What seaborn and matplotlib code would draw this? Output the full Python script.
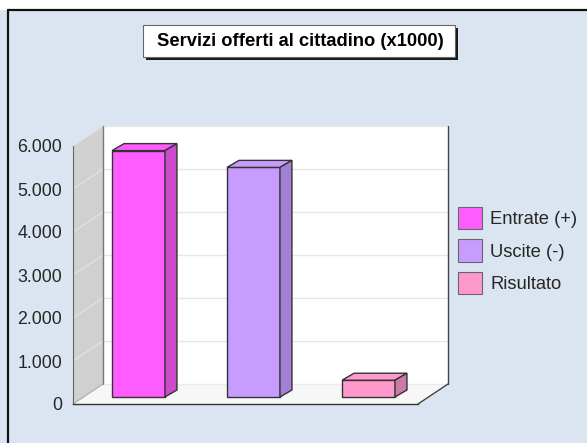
import numpy as np
import pandas as pd
import matplotlib
matplotlib.use("Agg")
import matplotlib.pyplot as plt
from matplotlib.patches import Polygon, Rectangle
from matplotlib.lines import Line2D
import seaborn as sns

# Data
categories = ["Entrate (+)", "Uscite (-)", "Risultato"]
values = [5730, 5340, 390]
front_colors = ["#ff5cff", "#c89cff", "#ff99cc"]
side_colors = ["#cc4acc", "#a47fd6", "#cc7aa3"]
tick_values = [0, 1000, 2000, 3000, 4000, 5000, 6000]
tick_labels = ["0", "1.000", "2.000", "3.000", "4.000", "5.000", "6.000"]
title = "Servizi offerti al cittadino (x1000)"

sns.set_style("white")
plt.rcParams['font.family'] = ['Liberation Sans', 'DejaVu Sans']

W, H = 587, 443
bg = "#dbe5f1"
fig = plt.figure(figsize=(W / 100, H / 100), dpi=100)
fig.patch.set_facecolor(bg)

def fx(px):
    return px / W

def fy(py):
    return 1 - py / H

# frame of the chart
fig.add_artist(Rectangle((0, fy(10)), 1, 10 / H, transform=fig.transFigure,
                         facecolor="white", edgecolor="none", zorder=0))
fig.add_artist(Line2D([fx(8), fx(8)], [0, fy(10)], transform=fig.transFigure,
                      color="#111111", lw=1.6))
fig.add_artist(Line2D([fx(8), 1], [fy(10), fy(10)], transform=fig.transFigure,
                      color="#111111", lw=1.6))

ax = fig.add_axes([fx(73), fy(404), (418 - 73) / W, (404 - 146) / H])
ax.set_facecolor("none")

df = pd.DataFrame({"voce": categories, "valore": values})
sns.barplot(data=df, x="voce", y="valore", hue="voce", palette=front_colors,
            width=0.46, saturation=1, edgecolor="#333333", linewidth=1,
            legend=False, ax=ax, zorder=4)

x0, x1, y0, y1 = -0.5, 2.5, 0, 6000
ax.set_xlim(x0, x1)
ax.set_ylim(y0, y1)

# pixel -> data scale factors
sx = (x1 - x0) / (418 - 73)
sy = (y1 - y0) / (404 - 146)
dx, dy = 30 * sx, 20 * sy          # depth of the box
bx, by = 8 * sx, 7 * sy            # bar placement inside the depth
tx, ty = 12 * sx, 7 * sy           # bar depth

# back wall
ax.add_patch(Polygon([(x0 + dx, y0 + dy), (x1 + dx, y0 + dy), (x1 + dx, y1 + dy), (x0 + dx, y1 + dy)],
                     closed=True, facecolor="white", edgecolor="none", clip_on=False, zorder=0))
# left wall
ax.add_patch(Polygon([(x0, y0), (x0 + dx, y0 + dy), (x0 + dx, y1 + dy), (x0, y1)],
                     closed=True, facecolor="#d0d0d0", edgecolor="none", clip_on=False, zorder=0))
# floor
ax.add_patch(Polygon([(x0, y0), (x0 + dx, y0 + dy), (x1 + dx, y0 + dy), (x1, y0)],
                     closed=True, facecolor="#f7f7f7", edgecolor="none", clip_on=False, zorder=0))

for t in tick_values[1:]:
    ax.plot([x0 + dx, x1 + dx], [t + dy, t + dy], color="#e6e6e6", lw=1, clip_on=False, zorder=1)
    ax.plot([x0, x0 + dx], [t, t + dy], color="#e4e4e4", lw=0.8, clip_on=False, zorder=1)
ax.plot([x0 + dx, x1 + dx], [y0 + dy, y0 + dy], color="#ececec", lw=1, clip_on=False, zorder=1)

# box edges
ax.plot([x0 + dx, x0 + dx], [y0 + dy, y1 + dy], color="#777777", lw=1, clip_on=False, zorder=2)
ax.plot([x1 + dx, x1 + dx], [y0 + dy, y1 + dy], color="#444444", lw=1, clip_on=False, zorder=2)
ax.plot([x1, x1 + dx], [y0, y0 + dy], color="#444444", lw=1, clip_on=False, zorder=2)
ax.plot([x0, x0 + dx], [y0, y0 + dy], color="#aaaaaa", lw=0.8, clip_on=False, zorder=2)

# 3D bars
for patch, side in zip(ax.patches[:len(values)], side_colors):
    patch.set_x(patch.get_x() + bx)
    patch.set_y(by)
    x = patch.get_x()
    w = patch.get_width()
    h = patch.get_height()
    top = by + h
    ax.add_patch(Polygon([(x, top), (x + w, top), (x + w + tx, top + ty), (x + tx, top + ty)],
                         closed=True, facecolor=patch.get_facecolor(), edgecolor="#333333",
                         lw=1, clip_on=False, zorder=4))
    ax.add_patch(Polygon([(x + w, by), (x + w + tx, by + ty), (x + w + tx, top + ty), (x + w, top)],
                         closed=True, facecolor=side, edgecolor="#333333",
                         lw=1, clip_on=False, zorder=4))

# axes styling
for s in ["top", "right"]:
    ax.spines[s].set_visible(False)
ax.spines["left"].set_color("#666666")
ax.spines["left"].set_linewidth(0.8)
ax.spines["bottom"].set_color("#333333")
ax.spines["bottom"].set_linewidth(1)
ax.set_yticks(tick_values)
ax.set_yticklabels(tick_labels, fontsize=12.8)
ax.tick_params(axis="y", direction="out", length=5, width=0.8, color="#666666", pad=3)
ax.set_xticks([])
ax.set_xlabel("")
ax.set_ylabel("")

# title box with shadow
fig.add_artist(Rectangle((fx(146), fy(60)), (455 - 143) / W, (57 - 25) / H, transform=fig.transFigure,
                         facecolor="#1a1a1a", edgecolor="none", zorder=5))
fig.add_artist(Rectangle((fx(143), fy(57)), (455 - 143) / W, (57 - 25) / H, transform=fig.transFigure,
                         facecolor="white", edgecolor="#666666", lw=0.8, zorder=6))
fig.text(fx(300), fy(41.5), title, ha="center", va="center", fontsize=13.2,
         fontweight="bold", color="black", zorder=7)

# legend
handles = [Rectangle((0, 0), 1, 1, facecolor=c, edgecolor="#666666", lw=0.8) for c in front_colors]
fig.legend(handles, categories, loc="upper left", bbox_to_anchor=(fx(458), fy(207)),
           frameon=False, fontsize=13.2, handlelength=1.3, handleheight=1.5,
           handletextpad=0.45, labelspacing=0.55, borderpad=0, borderaxespad=0)

fig.savefig("out.png", dpi=100, facecolor=fig.get_facecolor())
